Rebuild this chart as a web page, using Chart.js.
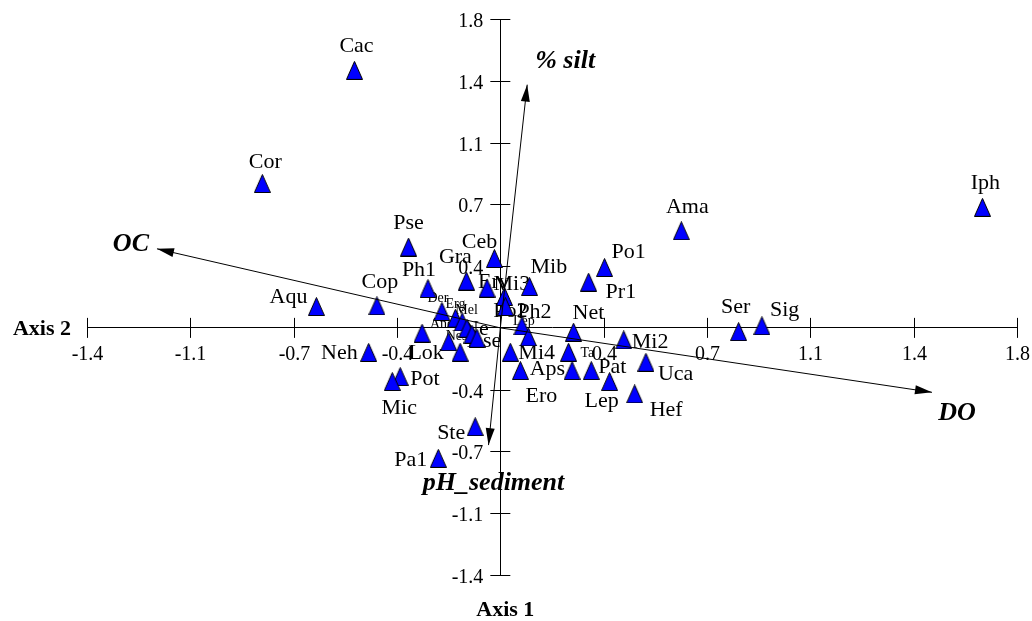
<!DOCTYPE html>
<html>
<head>
<meta charset="utf-8">
<script src="https://cdn.jsdelivr.net/npm/chart.js@4"></script>
<style>
html, body { margin: 0; padding: 0; background: #fff; }
</style>
</head>
<body>
<canvas id="biplot" width="1032" height="621"></canvas>
<script>
// species scores (axis 1 = horizontal, axis 2 = vertical)
var species = ['Cac', 'Cor', 'Pse', 'Ceb', 'Gra', 'Ph1', 'Cop', 'Aqu', 'Erv', 'Mi3',
  'Mib', 'Po2', 'Lep', 'Ph2', 'Net', 'Po1', 'Pr1', 'Ama', 'Iph', 'Ser',
  'Sig', 'Mi2', 'Uca', 'Hef', 'Lep', 'Pat', 'Ta', 'Aps', 'Ero', 'Mi4',
  'Neh', 'Lok', 'Pot', 'Mic', 'Ste', 'Pa1', 'Der', 'Erg', 'Mel', 'Ane',
  'Ne', 'Ase', 'Nes', 'Nai'];
var scoreX = [-0.494, -0.806, -0.311, -0.020, -0.115, -0.245, -0.418, -0.623, -0.045, 0.014,
  0.099, 0.017, 0.073, 0.095, 0.248, 0.353, 0.299, 0.613, 1.633, 0.807,
  0.886, 0.418, 0.493, 0.455, 0.370, 0.308, 0.231, 0.243, 0.068, 0.034,
  -0.446, -0.265, -0.339, -0.366, -0.085, -0.210, -0.198, -0.152, -0.129, -0.113,
  -0.096, -0.079, -0.175, -0.136];
var scoreY = [1.459, 0.818, 0.458, 0.393, 0.265, 0.223, 0.125, 0.121, 0.225, 0.178,
  0.234, 0.121, 0.011, -0.051, -0.024, 0.342, 0.259, 0.550, 0.683, -0.021,
  0.012, -0.068, -0.195, -0.374, -0.304, -0.242, -0.138, -0.242, -0.242, -0.138,
  -0.139, -0.030, -0.276, -0.304, -0.560, -0.739, 0.093, 0.055, 0.034, -0.002,
  -0.036, -0.059, -0.078, -0.138];

// environmental variables (arrow tips)
var envNames = ['OC', 'DO', '% silt', 'pH_sediment'];
var envX = [-1.163, 1.462, 0.091, -0.040];
var envY = [0.448, -0.365, 1.378, -0.664];

var tickValues = [-1.4, -1.05, -0.7, -0.35, 0, 0.35, 0.7, 1.05, 1.4, 1.75];
var tickLabels = ['-1.4', '-1.1', '-0.7', '-0.4', '', '0.4', '0.7', '1.1', '1.4', '1.8'];

// where each species label sits relative to its triangle: [dx, dy, align, small]
var labelPlace = [
  [2, -18, 'center'], [3, -16, 'center'], [0, -18, 'center'], [-15, -11, 'center'],
  [-11, -18, 'center'], [-9, -13, 'center'], [3, -18, 'center'], [-9, -4, 'right'],
  [-9, 0, 'left'], [-11, -6, 'left'], [1, -14, 'left'], [-12, 10, 'left'],
  [2, -1, 'center', 1], [-11, -19, 'left'], [-1, -13, 'left'], [7, -10, 'left'],
  [17, 16, 'left'], [6, -18, 'center'], [3, -18, 'center'], [-3, -19, 'center'],
  [8, -10, 'left'], [8, 8, 'left'], [12, 18, 'left'], [15, 22, 'left'],
  [-8, 25, 'center'], [7, 2, 'left'], [12, 5, 'left', 1], [-7, 4, 'right'],
  [21, 31, 'center'], [8, 7, 'left'], [-11, 7, 'right'], [4, 26, 'center'],
  [10, 8, 'left'], [7, 32, 'center'], [-10, 12, 'right'], [-11, 8, 'right'],
  [-4, -9, 'center', 1], [0, -10, 'center', 1], [-7, -8, 'left', 1], [-37, 0, 'left', 1],
  [-9, 1, 'left'], [-10, 9, 'left'], [-3, -2, 'left', 1], null
];
// arrow label placement relative to the tip: [dx, dy, align]
var envPlace = [[-8, 2, 'right'], [25, 28, 'center'], [8, -17, 'left'], [5, 45, 'center']];

var serif = 'Liberation Serif';

function makeTriangle() {
  var c = document.createElement('canvas');
  c.width = 17; c.height = 19;
  var g = c.getContext('2d');
  g.beginPath();
  g.moveTo(8.5, 0.5); g.lineTo(16.5, 18.5); g.lineTo(0.5, 18.5); g.closePath();
  g.fillStyle = '#0000ff'; g.fill();
  g.lineWidth = 1; g.strokeStyle = '#000'; g.stroke();
  return c;
}

var pts = scoreX.map(function (v, i) { return { x: v, y: scoreY[i] }; });
var datasets = [{
  label: 'species', data: pts, pointStyle: makeTriangle(), pointRadius: 9,
  showLine: false, order: 2
}];
envNames.forEach(function (n, i) {
  datasets.push({
    label: n, data: [{ x: 0, y: 0 }, { x: envX[i], y: envY[i] }],
    showLine: true, borderColor: '#000', borderWidth: 1, pointRadius: 0, order: 1
  });
});

var overlay = {
  id: 'overlay',
  beforeDatasetsDraw: function (chart) {
    var ctx = chart.ctx, sx = chart.scales.x, sy = chart.scales.y;
    var x0 = sx.getPixelForValue(0), y0 = sy.getPixelForValue(0);
    ctx.save();
    ctx.strokeStyle = '#000'; ctx.lineWidth = 1;
    ctx.fillStyle = '#000';
    ctx.font = '20px ' + serif;
    ctx.beginPath();
    tickValues.forEach(function (v, i) {
      var px = Math.round(sx.getPixelForValue(v)) + 0.5;
      var py = Math.round(sy.getPixelForValue(v)) + 0.5;
      if (v === 0) return;
      ctx.moveTo(px, y0 - 10); ctx.lineTo(px, y0 + 10);
      ctx.moveTo(x0 - 10, py); ctx.lineTo(x0 + 10, py);
      ctx.textAlign = 'center';
      ctx.fillText(tickLabels[i], px, y0 + 32);
      ctx.textAlign = 'right';
      ctx.fillText(tickLabels[i], x0 - 17, py + 7);
    });
    ctx.stroke();
    // species labels
    ctx.textBaseline = 'alphabetic';
    var meta = chart.getDatasetMeta(0);
    meta.data.forEach(function (el, i) {
      var p = labelPlace[i];
      if (!p) return;
      ctx.font = (p[3] ? '14px ' : '22px ') + serif;
      ctx.textAlign = p[2];
      ctx.fillText(species[i], el.x + p[0], el.y + p[1]);
    });
    // axis names
    ctx.font = 'bold 22px ' + serif;
    ctx.textAlign = 'right';
    ctx.fillText('Axis 2', 71, y0 + 7);
    ctx.textAlign = 'center';
    ctx.fillText('Axis 1', x0 + 5, 616);
    ctx.restore();
  },
  afterDatasetsDraw: function (chart) {
    var ctx = chart.ctx, sx = chart.scales.x, sy = chart.scales.y;
    var x0 = sx.getPixelForValue(0), y0 = sy.getPixelForValue(0);
    ctx.save();
    ctx.fillStyle = '#000';
    envNames.forEach(function (n, i) {
      var tx = sx.getPixelForValue(envX[i]), ty = sy.getPixelForValue(envY[i]);
      var a = Math.atan2(ty - y0, tx - x0);
      var len = 17, hw = 4.5;
      ctx.beginPath();
      ctx.moveTo(tx, ty);
      ctx.lineTo(tx - len * Math.cos(a) - hw * Math.sin(a), ty - len * Math.sin(a) + hw * Math.cos(a));
      ctx.lineTo(tx - len * Math.cos(a) + hw * Math.sin(a), ty - len * Math.sin(a) - hw * Math.cos(a));
      ctx.closePath();
      ctx.fill();
      var p = envPlace[i];
      ctx.font = 'italic bold 26px ' + serif;
      ctx.textAlign = p[2];
      ctx.fillText(n, tx + p[0], ty + p[1]);
    });
    ctx.restore();
  }
};

new Chart(document.getElementById('biplot'), {
  type: 'scatter',
  data: { datasets: datasets },
  options: {
    responsive: false,
    animation: false,
    devicePixelRatio: 1,
    layout: { padding: { left: 87, right: 15, top: 19, bottom: 46 } },
    plugins: { legend: { display: false }, tooltip: { enabled: false } },
    scales: {
      x: {
        type: 'linear', position: { y: 0 }, min: -1.4, max: 1.75,
        grid: { display: false },
        border: { display: true, color: '#000', width: 1 },
        ticks: { display: false }
      },
      y: {
        type: 'linear', position: { x: 0 }, min: -1.4, max: 1.75,
        grid: { display: false },
        border: { display: true, color: '#000', width: 1 },
        ticks: { display: false }
      }
    }
  },
  plugins: [overlay]
});
</script>
</body>
</html>
